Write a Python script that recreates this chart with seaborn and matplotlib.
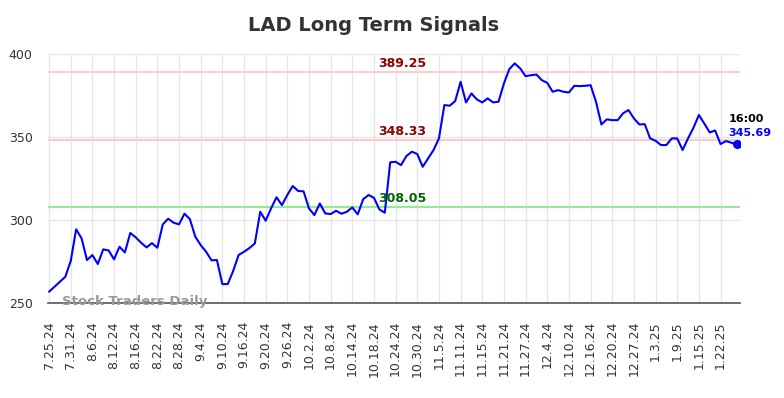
import matplotlib
matplotlib.use("Agg")
import matplotlib.pyplot as plt
import seaborn as sns
import pandas as pd

# closing prices, one per trading day (7.25.24 -> 1.27.25)
prices = [
    256.8, 259.8, 262.8, 265.8, 275.3, 294.4, 289.0, 275.9, 278.9, 273.5,
    282.3, 281.7, 276.3, 283.9, 280.5, 292.2, 289.6, 286.3, 283.5, 286.1,
    283.3, 297.4, 300.8, 298.4, 297.4, 303.8, 300.6, 290.0, 284.9, 280.9,
    275.7, 275.9, 261.4, 261.4, 269.3, 278.9, 280.9, 283.1, 285.9, 305.0,
    299.6, 307.0, 313.7, 309.0, 315.1, 320.5, 317.5, 317.3, 307.0, 303.0,
    310.0, 304.0, 303.6, 305.6, 303.8, 305.0, 307.6, 303.4, 312.5, 315.1,
    313.4, 306.4, 304.4, 334.8, 335.1, 333.1, 338.6, 341.2, 339.8, 332.1,
    337.2, 342.2, 349.2, 369.3, 368.9, 371.7, 383.3, 370.9, 376.3, 372.7,
    370.9, 373.3, 370.9, 371.3, 382.3, 391.0, 394.4, 391.4, 386.7, 387.3,
    387.7, 384.3, 382.7, 377.3, 378.3, 377.3, 376.9, 380.9, 380.7, 380.9,
    381.3, 371.3, 357.6, 360.7, 360.2, 360.2, 364.3, 366.3, 361.3, 357.6,
    357.8, 349.2, 347.8, 345.2, 345.2, 349.2, 349.2, 342.2, 349.2, 355.6,
    363.3, 358.2, 352.8, 354.0, 345.8, 347.6, 346.6, 345.69,
]

# every 4th trading day gets a label
tick_labels = [
    "7.25.24", "7.31.24", "8.6.24", "8.12.24", "8.16.24", "8.22.24", "8.28.24",
    "9.4.24", "9.10.24", "9.16.24", "9.20.24", "9.26.24", "10.2.24", "10.8.24",
    "10.14.24", "10.18.24", "10.24.24", "10.30.24", "11.5.24", "11.11.24",
    "11.15.24", "11.21.24", "11.27.24", "12.4.24", "12.10.24", "12.16.24",
    "12.20.24", "12.27.24", "1.3.25", "1.9.25", "1.15.25", "1.22.25",
]

resistance_levels = [389.25, 348.33]
support_levels = [308.05]
last_time = "16:00"

df = pd.DataFrame({"day": range(len(prices)), "close": prices})

sns.set_style("white")
fig = plt.figure(figsize=(7.84, 3.98), dpi=100)
ax = fig.add_axes([0.0612, 0.2387, 0.8827, 0.6253])

sns.lineplot(data=df, x="day", y="close", color="#0000ff", linewidth=1.5, ax=ax)

for lvl in resistance_levels:
    ax.axhline(lvl, color="#ffcccc", linewidth=1.5, zorder=1)
    ax.text(65.3, lvl + 1.3, f"{lvl:.2f}", color="#8b0000", fontsize=9,
            fontweight="bold", ha="center", va="bottom")
for lvl in support_levels:
    ax.axhline(lvl, color="#90ee90", linewidth=1.5, zorder=1)
    ax.text(65.3, lvl + 1.3, f"{lvl:.2f}", color="#006400", fontsize=9,
            fontweight="bold", ha="center", va="bottom")

# last close marker + labels
last_i = len(prices) - 1
ax.scatter([last_i], [prices[-1]], color="#0000ff", s=30, zorder=5)
ax.text(last_i - 1.5, prices[-1] + 15, last_time, color="black", fontsize=8,
        fontweight="bold", ha="left", va="center")
ax.text(last_i - 1.5, prices[-1] + 6.5, f"{prices[-1]:.2f}", color="#0000ff",
        fontsize=8, fontweight="bold", ha="left", va="center")

ax.text(0.02, 0.005, "Stock Traders Daily", transform=ax.transAxes,
        color="#999999", fontsize=9.5, fontweight="bold", ha="left", va="center",
        zorder=6)

ax.set_xlim(-0.2, 127.6)
ax.set_ylim(250, 400)
ax.set_yticks([250, 300, 350, 400])
ax.set_xticks(range(0, 4 * len(tick_labels), 4))
ax.set_xticklabels(tick_labels, rotation=90)
ax.tick_params(axis="both", labelsize=9, colors="#333333", length=0)
ax.tick_params(axis="x", pad=13)
ax.tick_params(axis="y", pad=11)
ax.set_xlabel("")
ax.set_ylabel("")
ax.grid(True, color="#e6e6e6", linewidth=1)
for side in ["top", "right", "left"]:
    ax.spines[side].set_visible(False)
ax.spines["bottom"].set_color("#555555")
ax.spines["bottom"].set_linewidth(1.2)

fig.text(0.477, 0.935, "LAD Long Term Signals", ha="center", va="center",
         fontsize=14, fontweight="bold", color="#333333")

plt.savefig("out.png", dpi=100)
plt.close()
